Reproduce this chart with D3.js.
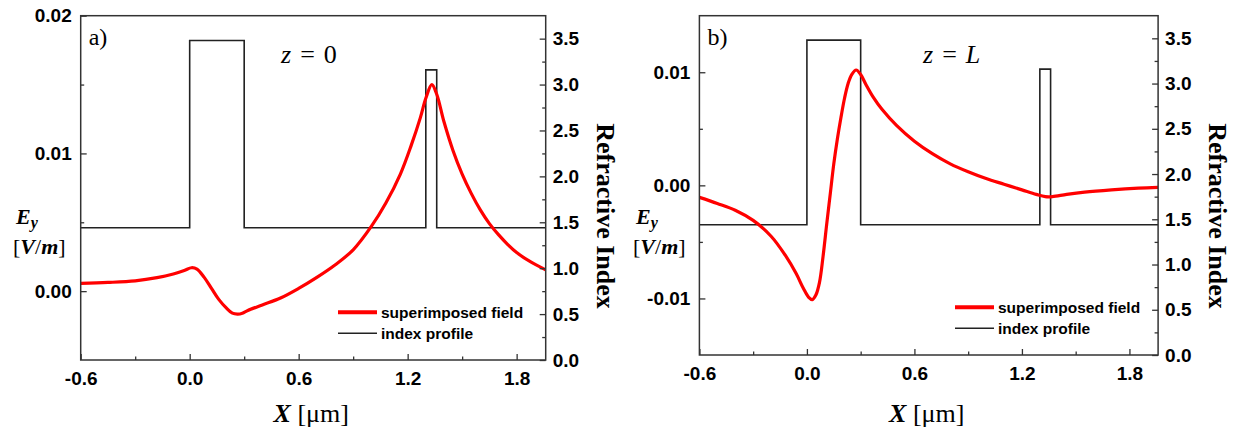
<!DOCTYPE html>
<html><head><meta charset="utf-8">
<script src="https://cdn.jsdelivr.net/npm/d3@7"></script>
<style>
body{margin:0;background:#fff;}
svg{display:block;}
.tick text{font-family:"Liberation Sans",Arial,sans-serif;font-weight:bold;fill:#000;}
.serif{font-family:"Liberation Serif","Times New Roman",serif;fill:#000;}
</style>
</head><body>
<svg id="chart" width="1239" height="432"></svg>
<script>
// ---------- data ----------
const xTickValues = [-0.6, 0.0, 0.6, 1.2, 1.8];
const xTickLabels = ["-0.6", "0.0", "0.6", "1.2", "1.8"];
const xMinorTicks = [-0.3, 0.3, 0.9, 1.5];
const xDomain = [-0.6, 1.96];

const rightTickValues = [0.0, 0.5, 1.0, 1.5, 2.0, 2.5, 3.0, 3.5];
const rightTickLabels = ["0.0", "0.5", "1.0", "1.5", "2.0", "2.5", "3.0", "3.5"];
const rightMinorTicks = [0.25, 0.75, 1.25, 1.75, 2.25, 2.75, 3.25];
const rightDomain = [0, 3.75];

const indexX = [-0.6, 0.0, 0.3, 1.30, 1.36, 1.96];
const indexN = [1.44, 3.48, 1.44, 3.16, 1.44, 1.44];

const leftTicksA = [0.00, 0.01, 0.02];
const leftLabelsA = ["0.00", "0.01", "0.02"];
const leftMinorA = [0.005, 0.015];
const leftDomainA = [-0.005, 0.02];

const leftTicksB = [-0.01, 0.00, 0.01];
const leftLabelsB = ["-0.01", "0.00", "0.01"];
const leftMinorB = [-0.005, 0.005];
const leftDomainB = [-0.015, 0.015];

// panel a (z = 0): superimposed field E_y [V/m] vs X [um]
const fieldAX = [-0.6,-0.45,-0.3,-0.18,-0.09,-0.03,0.01,0.04,0.08,0.12,0.16,0.20,0.235,0.265,0.29,0.32,0.40,0.50,0.60,0.70,0.80,0.90,1.00,1.08,1.16,1.22,1.27,1.30,1.333,1.36,1.40,1.45,1.50,1.55,1.60,1.65,1.70,1.75,1.80,1.88,1.96];
const fieldAE = [0.00056,0.00063,0.00075,0.00098,0.00125,0.0015,0.0017,0.0016,0.0010,0.0002,-0.0006,-0.0012,-0.0016,-0.00167,-0.0016,-0.0014,-0.0010,-0.0005,0.0002,0.0010,0.0019,0.0030,0.0047,0.0064,0.0085,0.0106,0.0126,0.0140,0.0150,0.0143,0.0123,0.0102,0.0085,0.0071,0.0059,0.0049,0.0041,0.0034,0.0028,0.0021,0.00155];

// panel b (z = L)
const fieldBX = [-0.6,-0.5,-0.4,-0.3,-0.2,-0.12,-0.06,-0.02,0.01,0.03,0.05,0.07,0.09,0.11,0.13,0.15,0.17,0.19,0.21,0.23,0.25,0.275,0.30,0.33,0.37,0.42,0.50,0.60,0.70,0.80,0.90,1.00,1.10,1.20,1.28,1.33,1.37,1.45,1.55,1.70,1.85,1.96];
const fieldBE = [-0.00106,-0.0016,-0.0022,-0.0031,-0.0045,-0.0062,-0.0078,-0.0091,-0.0099,-0.0101,-0.0097,-0.0086,-0.0063,-0.0035,-0.0008,0.0019,0.0041,0.0060,0.0077,0.0090,0.0098,0.0102,0.0098,0.0089,0.0078,0.0067,0.0053,0.0039,0.0028,0.0019,0.0012,0.0006,0.0001,-0.0004,-0.0008,-0.0010,-0.0010,-0.0008,-0.0006,-0.0004,-0.00025,-0.00018];

const legendLabels = ["superimposed field", "index profile"];

// ---------- drawing ----------
const svg = d3.select("#chart");
const axisColor = "#333";

function drawPanel(p) {
  const g = svg.append("g");
  const x = d3.scaleLinear().domain(xDomain).range([p.left, p.right]);
  const yL = d3.scaleLinear().domain(p.leftDomain).range([p.bottom, p.top]);
  const yR = d3.scaleLinear().domain(rightDomain).range([p.bottom, p.top]);

  const clipId = "clip" + p.id;
  g.append("clipPath").attr("id", clipId).append("rect")
    .attr("x", p.left).attr("y", p.top).attr("width", p.right - p.left).attr("height", p.bottom - p.top);

  // index profile
  const idx = indexX.map((v, i) => [v, indexN[i]]);
  g.append("path").datum(idx)
    .attr("clip-path", `url(#${clipId})`)
    .attr("fill", "none").attr("stroke", "#222").attr("stroke-width", 1.6)
    .attr("d", d3.line().x(d => x(d[0])).y(d => yR(d[1])).curve(d3.curveStepAfter));

  // field
  const fld = p.fx.map((v, i) => [v, p.fe[i]]);
  g.append("path").datum(fld)
    .attr("clip-path", `url(#${clipId})`)
    .attr("fill", "none").attr("stroke", "#ff0000").attr("stroke-width", 3.2)
    .attr("stroke-linejoin", "round")
    .attr("d", d3.line().x(d => x(d[0])).y(d => yL(d[1])).curve(d3.curveCatmullRom.alpha(0.5)));

  // axes
  const fs = "19px";
  const xa = g.append("g").attr("transform", `translate(0,${p.bottom})`)
    .call(d3.axisBottom(x).tickValues(xTickValues).tickFormat((d, i) => xTickLabels[i])
      .tickSizeInner(-6).tickSizeOuter(0).tickPadding(12));
  xa.selectAll("text").style("font-size", fs);
  g.append("g").attr("transform", `translate(0,${p.bottom})`)
    .call(d3.axisBottom(x).tickValues(xMinorTicks).tickFormat("").tickSizeInner(-3.5).tickSizeOuter(0));

  const la = g.append("g").attr("transform", `translate(${p.left},0)`)
    .call(d3.axisLeft(yL).tickValues(p.leftTicks).tickFormat((d, i) => p.leftLabels[i])
      .tickSizeInner(-6).tickSizeOuter(0).tickPadding(9));
  la.selectAll("text").style("font-size", fs);
  g.append("g").attr("transform", `translate(${p.left},0)`)
    .call(d3.axisLeft(yL).tickValues(p.leftMinor).tickFormat("").tickSizeInner(-3.5).tickSizeOuter(0));

  const ra = g.append("g").attr("transform", `translate(${p.right},0)`)
    .call(d3.axisRight(yR).tickValues(rightTickValues).tickFormat((d, i) => rightTickLabels[i])
      .tickSizeInner(-6).tickSizeOuter(0).tickPadding(7));
  ra.selectAll("text").style("font-size", fs);
  g.append("g").attr("transform", `translate(${p.right},0)`)
    .call(d3.axisRight(yR).tickValues(rightMinorTicks).tickFormat("").tickSizeInner(-3.5).tickSizeOuter(0));

  g.selectAll(".domain").remove();
  g.selectAll(".tick line").attr("stroke", axisColor).attr("stroke-width", 1.3);

  // frame
  g.append("rect").attr("x", p.left).attr("y", p.top)
    .attr("width", p.right - p.left).attr("height", p.bottom - p.top)
    .attr("fill", "none").attr("stroke", axisColor).attr("stroke-width", 1.5);

  // panel letter
  g.append("text").attr("class", "serif").attr("x", p.left + 8).attr("y", 45)
    .style("font-size", "24px").text(p.letter);

  // z label
  const zt = g.append("text").attr("class", "serif").attr("x", p.zx).attr("y", 63).style("font-size", "26px");
  zt.append("tspan").style("font-style", "italic").text("z");
  zt.append("tspan").attr("dx", 9).text("=");
  zt.append("tspan").attr("dx", 9).style("font-style", p.zItalic ? "italic" : "normal").text(p.zVal);

  // E_y label
  const ey = g.append("text").attr("class", "serif").attr("x", p.eyx).attr("y", 224)
    .style("font-size", "22px").style("font-weight", "bold").style("font-style", "italic");
  ey.append("tspan").text("E");
  ey.append("tspan").attr("dy", 4).style("font-size", "16px").text("y");
  const vm = g.append("text").attr("class", "serif").attr("x", p.eyx - 3).attr("y", 254).style("font-size", "22px");
  vm.append("tspan").text("[");
  vm.append("tspan").style("font-style", "italic").style("font-weight", "bold").text("V");
  vm.append("tspan").text("/");
  vm.append("tspan").style("font-style", "italic").style("font-weight", "bold").text("m");
  vm.append("tspan").text("]");

  // X label
  const xl = g.append("text").attr("class", "serif").attr("x", (p.left + p.right) / 2 - 2).attr("y", 422)
    .attr("text-anchor", "middle").style("font-size", "26px");
  xl.append("tspan").style("font-style", "italic").style("font-weight", "bold").text("X");
  xl.append("tspan").text(" [μm]");

  // right title
  g.append("text").attr("class", "serif")
    .attr("transform", `translate(${p.right + 51},216) rotate(90)`)
    .attr("text-anchor", "middle").style("font-size", "26px").style("font-weight", "bold")
    .text("Refractive Index");

  // legend
  const lg = g.append("g");
  const lx0 = p.legX, lx1 = p.legX + 39;
  [0, 1].forEach(i => {
    const yy = p.legY + i * 21;
    lg.append("line").attr("x1", lx0).attr("x2", lx1).attr("y1", yy).attr("y2", yy)
      .attr("stroke", i === 0 ? "#ff0000" : "#222").attr("stroke-width", i === 0 ? 4 : 1.6);
    lg.append("text").attr("x", lx1 + 4).attr("y", yy).attr("dy", "0.35em")
      .style("font-family", "'Liberation Sans',Arial,sans-serif").style("font-weight", "bold")
      .style("font-size", "15.5px").text(legendLabels[i]);
  });
}

drawPanel({id: "a", left: 80.7, right: 545.7, top: 15.7, bottom: 360,
  leftDomain: leftDomainA, leftTicks: leftTicksA, leftLabels: leftLabelsA, leftMinor: leftMinorA,
  fx: fieldAX, fe: fieldAE, letter: "a)", zx: 281, zVal: "0", zItalic: false,
  eyx: 16, legX: 338, legY: 312.3});

drawPanel({id: "b", left: 699.4, right: 1158.1, top: 15.7, bottom: 355,
  leftDomain: leftDomainB, leftTicks: leftTicksB, leftLabels: leftLabelsB, leftMinor: leftMinorB,
  fx: fieldBX, fe: fieldBE, letter: "b)", zx: 923, zVal: "L", zItalic: true,
  eyx: 636, legX: 955, legY: 307.3});
</script>
</body></html>
